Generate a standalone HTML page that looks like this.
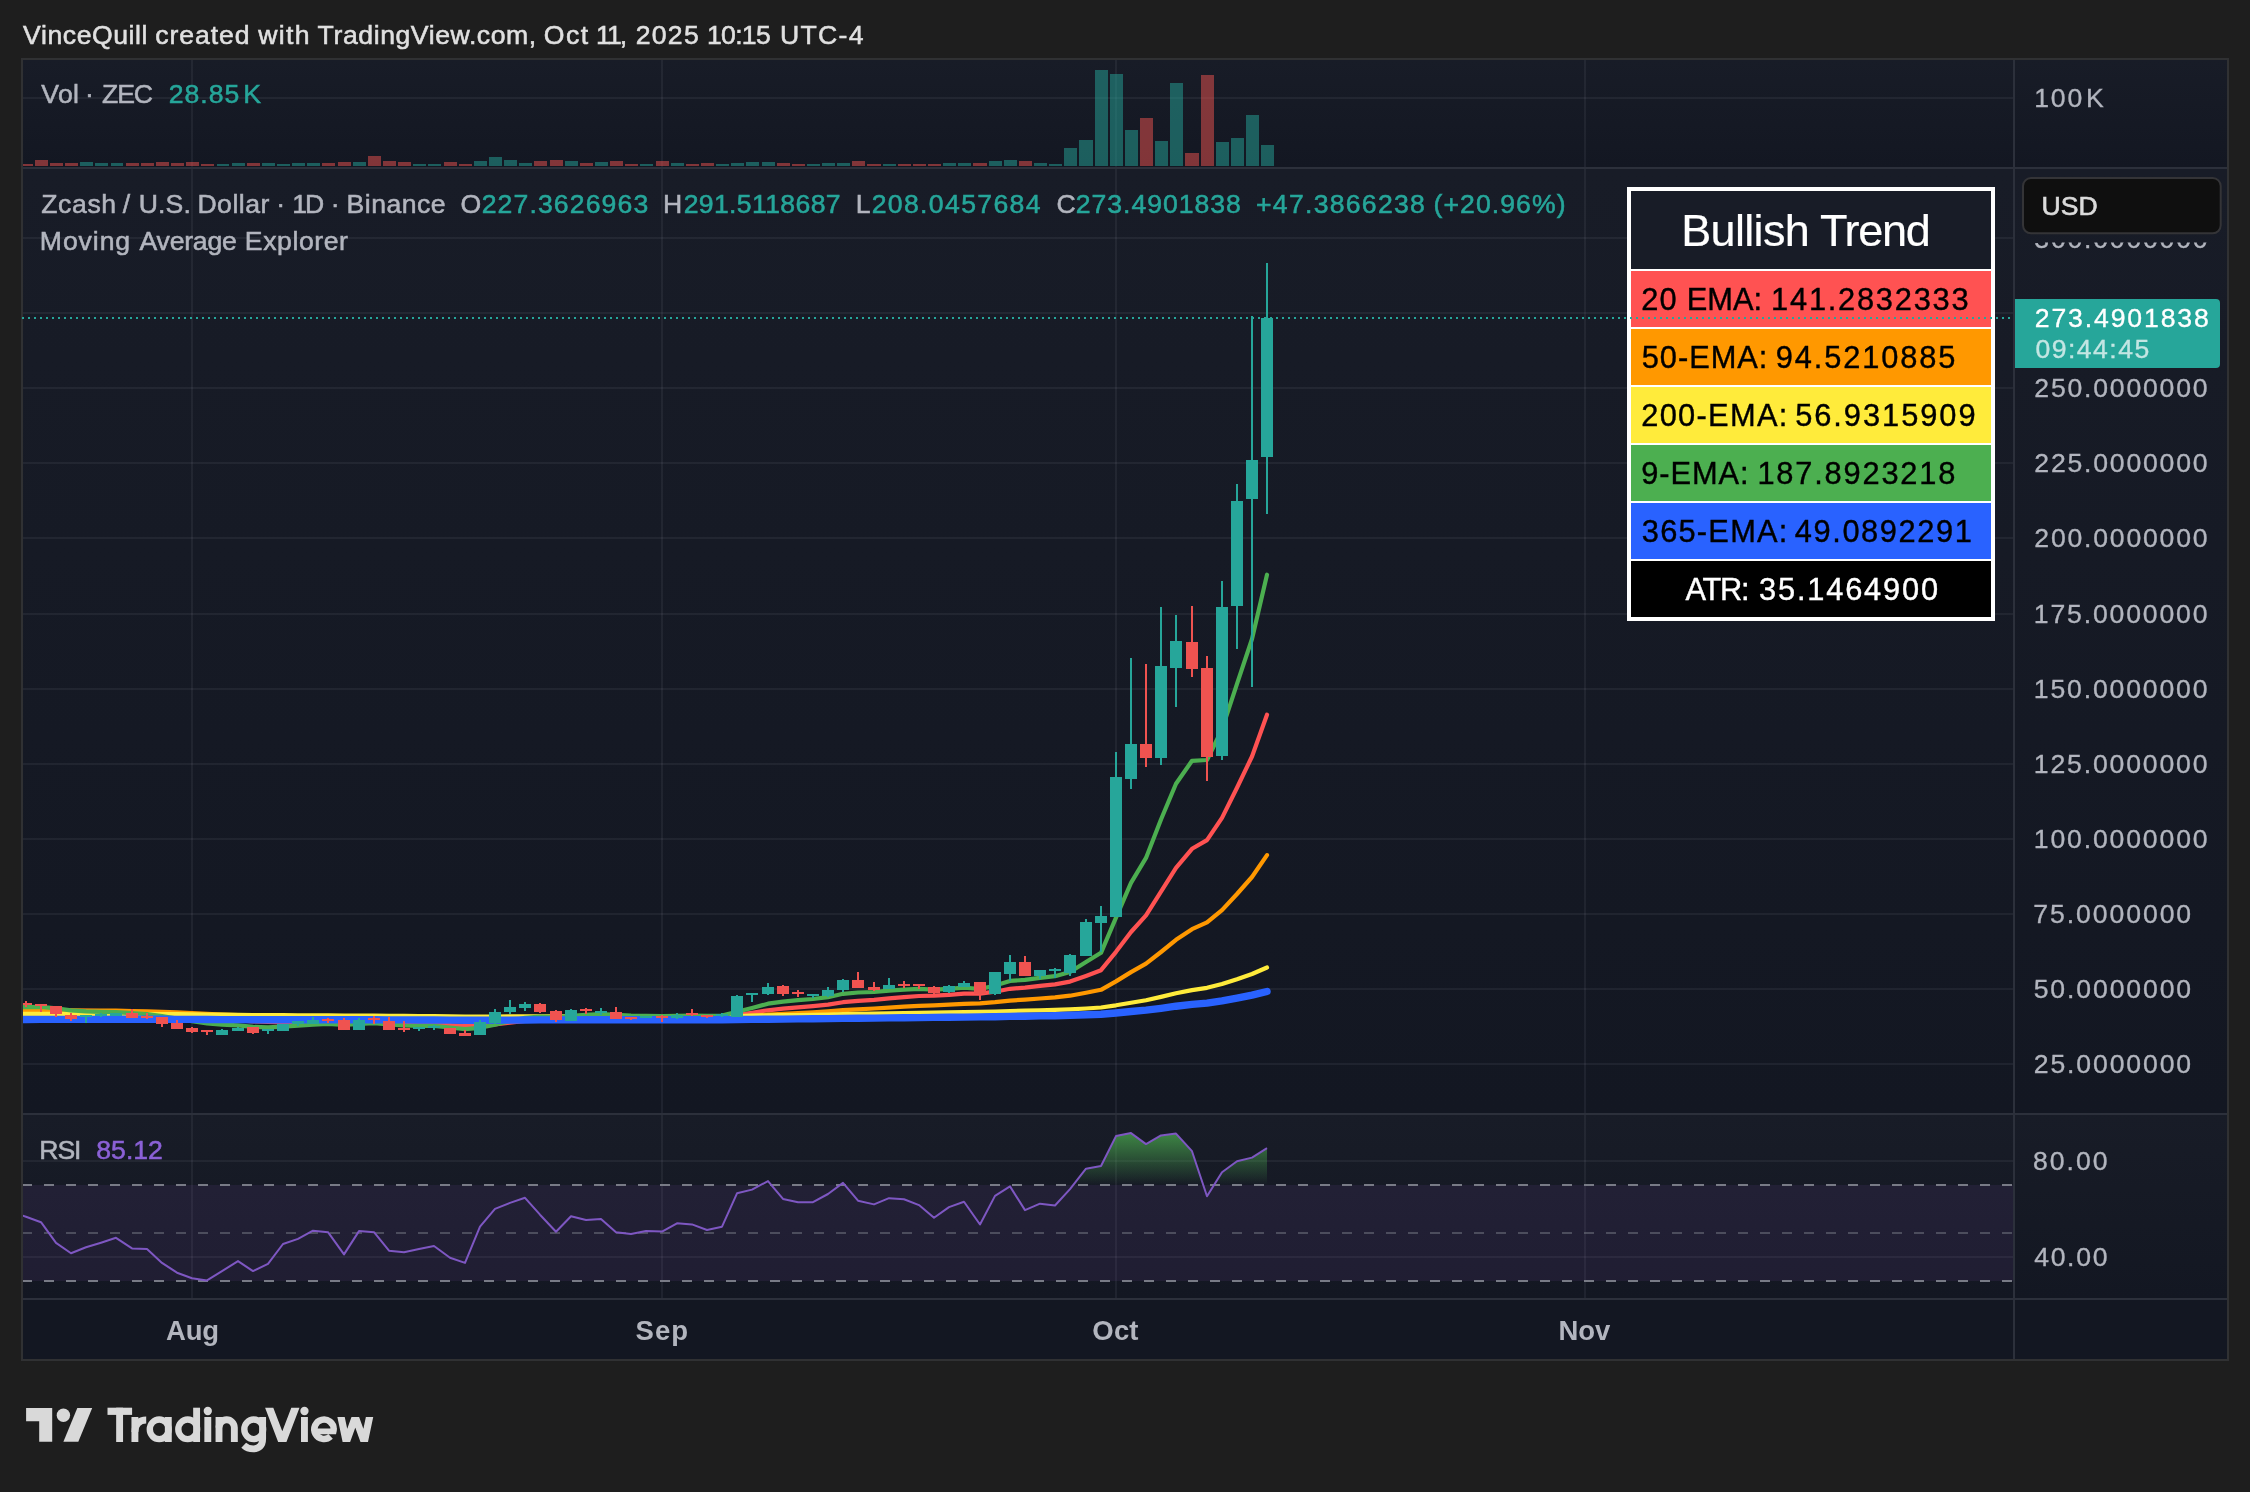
<!DOCTYPE html>
<html><head><meta charset="utf-8"><title>ZEC chart</title>
<style>html,body{margin:0;padding:0;background:#1e1e1e;}svg text{white-space:pre}</style></head>
<body>
<svg width="2250" height="1492" viewBox="0 0 2250 1492" font-family='"Liberation Sans", sans-serif' style="display:block;will-change:transform">
<defs>
<linearGradient id="pg" x1="0" y1="0" x2="0" y2="1"><stop offset="0" stop-color="#181c27"/><stop offset="1" stop-color="#131722"/></linearGradient>
<linearGradient id="ob" gradientUnits="userSpaceOnUse" x1="0" y1="1113" x2="0" y2="1185"><stop offset="0" stop-color="#4caf50" stop-opacity="1"/><stop offset="1" stop-color="#4caf50" stop-opacity="0"/></linearGradient>
<clipPath id="cm"><rect x="23" y="169" width="1990" height="944"/></clipPath>
<clipPath id="cr"><rect x="23" y="1115" width="1990" height="183"/></clipPath>
<clipPath id="cv"><rect x="23" y="60" width="1990" height="107"/></clipPath>
<clipPath id="c300"><rect x="2015" y="242.6" width="212" height="30"/></clipPath>
</defs>
<rect x="0" y="0" width="2250" height="1492" fill="#1e1e1e" />
<rect x="21" y="58" width="2208" height="1303" fill="#303133" />
<rect x="23" y="167" width="2204" height="2" fill="#2c303b" />
<rect x="23" y="1113" width="2204" height="2" fill="#2c303b" />
<rect x="23" y="1298" width="2204" height="2" fill="#2c303b" />
<rect x="23" y="60" width="2204" height="107" fill="url(#pg)" />
<rect x="23" y="169" width="2204" height="944" fill="url(#pg)" />
<rect x="23" y="1115" width="2204" height="183" fill="url(#pg)" />
<rect x="23" y="1300" width="2204" height="59" fill="#131722" />
<rect x="2013" y="60" width="2" height="1299" fill="#2c303b" />
<g fill="rgba(240,243,250,0.06)" shape-rendering="crispEdges">
<rect x="191" y="60" width="2" height="107" fill="rgba(240,243,250,0.06)" />
<rect x="191" y="169" width="2" height="944" fill="rgba(240,243,250,0.06)" />
<rect x="191" y="1115" width="2" height="183" fill="rgba(240,243,250,0.06)" />
<rect x="661" y="60" width="2" height="107" fill="rgba(240,243,250,0.06)" />
<rect x="661" y="169" width="2" height="944" fill="rgba(240,243,250,0.06)" />
<rect x="661" y="1115" width="2" height="183" fill="rgba(240,243,250,0.06)" />
<rect x="1115" y="60" width="2" height="107" fill="rgba(240,243,250,0.06)" />
<rect x="1115" y="169" width="2" height="944" fill="rgba(240,243,250,0.06)" />
<rect x="1115" y="1115" width="2" height="183" fill="rgba(240,243,250,0.06)" />
<rect x="1584" y="60" width="2" height="107" fill="rgba(240,243,250,0.06)" />
<rect x="1584" y="169" width="2" height="944" fill="rgba(240,243,250,0.06)" />
<rect x="1584" y="1115" width="2" height="183" fill="rgba(240,243,250,0.06)" />
<rect x="23" y="1063" width="1990" height="2" fill="rgba(240,243,250,0.06)" />
<rect x="23" y="988" width="1990" height="2" fill="rgba(240,243,250,0.06)" />
<rect x="23" y="913" width="1990" height="2" fill="rgba(240,243,250,0.06)" />
<rect x="23" y="838" width="1990" height="2" fill="rgba(240,243,250,0.06)" />
<rect x="23" y="763" width="1990" height="2" fill="rgba(240,243,250,0.06)" />
<rect x="23" y="688" width="1990" height="2" fill="rgba(240,243,250,0.06)" />
<rect x="23" y="613" width="1990" height="2" fill="rgba(240,243,250,0.06)" />
<rect x="23" y="537" width="1990" height="2" fill="rgba(240,243,250,0.06)" />
<rect x="23" y="462" width="1990" height="2" fill="rgba(240,243,250,0.06)" />
<rect x="23" y="387" width="1990" height="2" fill="rgba(240,243,250,0.06)" />
<rect x="23" y="312" width="1990" height="2" fill="rgba(240,243,250,0.06)" />
<rect x="23" y="237" width="1990" height="2" fill="rgba(240,243,250,0.06)" />
<rect x="23" y="97" width="1990" height="2" fill="rgba(240,243,250,0.06)" />
<rect x="23" y="1160" width="1990" height="2" fill="rgba(240,243,250,0.06)" />
<rect x="23" y="1256" width="1990" height="2" fill="rgba(240,243,250,0.06)" />
</g>
<g clip-path="url(#cv)" shape-rendering="crispEdges">
<rect x="20" y="164" width="13" height="2" fill="rgba(239,83,80,0.5)" />
<rect x="35" y="160" width="13" height="6" fill="rgba(239,83,80,0.5)" />
<rect x="50" y="163" width="13" height="3" fill="rgba(239,83,80,0.5)" />
<rect x="65" y="163" width="13" height="3" fill="rgba(239,83,80,0.5)" />
<rect x="80" y="162" width="13" height="4" fill="rgba(38,166,154,0.5)" />
<rect x="95" y="163" width="13" height="3" fill="rgba(38,166,154,0.5)" />
<rect x="111" y="163" width="12" height="3" fill="rgba(38,166,154,0.5)" />
<rect x="126" y="163" width="13" height="3" fill="rgba(239,83,80,0.5)" />
<rect x="141" y="163" width="13" height="3" fill="rgba(239,83,80,0.5)" />
<rect x="156" y="162" width="13" height="4" fill="rgba(239,83,80,0.5)" />
<rect x="171" y="163" width="13" height="3" fill="rgba(239,83,80,0.5)" />
<rect x="186" y="162" width="13" height="4" fill="rgba(239,83,80,0.5)" />
<rect x="201" y="164" width="13" height="2" fill="rgba(239,83,80,0.5)" />
<rect x="217" y="164" width="12" height="2" fill="rgba(38,166,154,0.5)" />
<rect x="232" y="163" width="13" height="3" fill="rgba(38,166,154,0.5)" />
<rect x="247" y="163" width="13" height="3" fill="rgba(239,83,80,0.5)" />
<rect x="262" y="163" width="13" height="3" fill="rgba(38,166,154,0.5)" />
<rect x="277" y="164" width="13" height="2" fill="rgba(38,166,154,0.5)" />
<rect x="292" y="163" width="13" height="3" fill="rgba(38,166,154,0.5)" />
<rect x="307" y="163" width="13" height="3" fill="rgba(38,166,154,0.5)" />
<rect x="322" y="163" width="13" height="3" fill="rgba(239,83,80,0.5)" />
<rect x="338" y="162" width="13" height="4" fill="rgba(239,83,80,0.5)" />
<rect x="353" y="162" width="13" height="4" fill="rgba(38,166,154,0.5)" />
<rect x="368" y="156" width="13" height="10" fill="rgba(239,83,80,0.5)" />
<rect x="383" y="161" width="13" height="5" fill="rgba(239,83,80,0.5)" />
<rect x="398" y="162" width="13" height="4" fill="rgba(239,83,80,0.5)" />
<rect x="413" y="164" width="13" height="2" fill="rgba(38,166,154,0.5)" />
<rect x="428" y="164" width="13" height="2" fill="rgba(38,166,154,0.5)" />
<rect x="444" y="162" width="13" height="4" fill="rgba(239,83,80,0.5)" />
<rect x="459" y="164" width="13" height="2" fill="rgba(239,83,80,0.5)" />
<rect x="474" y="161" width="13" height="5" fill="rgba(38,166,154,0.5)" />
<rect x="489" y="157" width="13" height="9" fill="rgba(38,166,154,0.5)" />
<rect x="504" y="160" width="13" height="6" fill="rgba(38,166,154,0.5)" />
<rect x="519" y="163" width="13" height="3" fill="rgba(38,166,154,0.5)" />
<rect x="534" y="161" width="13" height="5" fill="rgba(239,83,80,0.5)" />
<rect x="550" y="160" width="13" height="6" fill="rgba(239,83,80,0.5)" />
<rect x="565" y="161" width="13" height="5" fill="rgba(38,166,154,0.5)" />
<rect x="580" y="163" width="13" height="3" fill="rgba(239,83,80,0.5)" />
<rect x="595" y="162" width="13" height="4" fill="rgba(38,166,154,0.5)" />
<rect x="610" y="161" width="13" height="5" fill="rgba(239,83,80,0.5)" />
<rect x="625" y="164" width="13" height="2" fill="rgba(239,83,80,0.5)" />
<rect x="640" y="164" width="13" height="2" fill="rgba(38,166,154,0.5)" />
<rect x="656" y="161" width="13" height="5" fill="rgba(239,83,80,0.5)" />
<rect x="671" y="163" width="13" height="3" fill="rgba(38,166,154,0.5)" />
<rect x="686" y="164" width="13" height="2" fill="rgba(239,83,80,0.5)" />
<rect x="701" y="163" width="13" height="3" fill="rgba(239,83,80,0.5)" />
<rect x="716" y="164" width="13" height="2" fill="rgba(38,166,154,0.5)" />
<rect x="731" y="163" width="13" height="3" fill="rgba(38,166,154,0.5)" />
<rect x="746" y="162" width="13" height="4" fill="rgba(38,166,154,0.5)" />
<rect x="762" y="162" width="13" height="4" fill="rgba(38,166,154,0.5)" />
<rect x="777" y="163" width="13" height="3" fill="rgba(239,83,80,0.5)" />
<rect x="792" y="164" width="13" height="2" fill="rgba(239,83,80,0.5)" />
<rect x="807" y="164" width="13" height="2" fill="rgba(38,166,154,0.5)" />
<rect x="822" y="163" width="13" height="3" fill="rgba(38,166,154,0.5)" />
<rect x="837" y="163" width="13" height="3" fill="rgba(38,166,154,0.5)" />
<rect x="852" y="161" width="13" height="5" fill="rgba(239,83,80,0.5)" />
<rect x="867" y="164" width="14" height="2" fill="rgba(239,83,80,0.5)" />
<rect x="883" y="164" width="13" height="2" fill="rgba(38,166,154,0.5)" />
<rect x="898" y="164" width="13" height="2" fill="rgba(239,83,80,0.5)" />
<rect x="913" y="164" width="13" height="2" fill="rgba(239,83,80,0.5)" />
<rect x="928" y="164" width="13" height="2" fill="rgba(239,83,80,0.5)" />
<rect x="943" y="163" width="13" height="3" fill="rgba(38,166,154,0.5)" />
<rect x="958" y="163" width="13" height="3" fill="rgba(38,166,154,0.5)" />
<rect x="973" y="163" width="14" height="3" fill="rgba(239,83,80,0.5)" />
<rect x="989" y="161" width="13" height="5" fill="rgba(38,166,154,0.5)" />
<rect x="1004" y="160" width="13" height="6" fill="rgba(38,166,154,0.5)" />
<rect x="1019" y="161" width="13" height="5" fill="rgba(239,83,80,0.5)" />
<rect x="1034" y="163" width="13" height="3" fill="rgba(38,166,154,0.5)" />
<rect x="1049" y="164" width="13" height="2" fill="rgba(38,166,154,0.5)" />
<rect x="1064" y="148" width="13" height="18" fill="rgba(38,166,154,0.5)" />
<rect x="1079" y="140" width="14" height="26" fill="rgba(38,166,154,0.5)" />
<rect x="1095" y="70" width="13" height="96" fill="rgba(38,166,154,0.5)" />
<rect x="1110" y="74" width="13" height="92" fill="rgba(38,166,154,0.5)" />
<rect x="1125" y="130" width="13" height="36" fill="rgba(38,166,154,0.5)" />
<rect x="1140" y="118" width="13" height="48" fill="rgba(239,83,80,0.5)" />
<rect x="1155" y="141" width="13" height="25" fill="rgba(38,166,154,0.5)" />
<rect x="1170" y="83" width="13" height="83" fill="rgba(38,166,154,0.5)" />
<rect x="1185" y="153" width="14" height="13" fill="rgba(239,83,80,0.5)" />
<rect x="1201" y="75" width="13" height="91" fill="rgba(239,83,80,0.5)" />
<rect x="1216" y="142" width="13" height="24" fill="rgba(38,166,154,0.5)" />
<rect x="1231" y="138" width="13" height="28" fill="rgba(38,166,154,0.5)" />
<rect x="1246" y="115" width="13" height="51" fill="rgba(38,166,154,0.5)" />
<rect x="1261" y="145" width="13" height="21" fill="rgba(38,166,154,0.5)" />
</g>
<g clip-path="url(#cm)">
<polyline points="10,1009.5 26,1009.5 41,1009.1 56,1009.6 71,1010.5 86,1010.9 101,1011.2 116,1011.4 132,1012.0 147,1012.5 162,1013.6 177,1015.0 192,1016.6 207,1018.1 222,1019.2 238,1020.1 253,1021.3 268,1022.0 283,1022.3 298,1022.2 313,1022.0 328,1021.9 344,1022.6 359,1022.4 374,1022.1 389,1022.9 404,1023.5 419,1023.8 434,1024.1 450,1025.0 465,1026.0 480,1025.7 495,1024.4 510,1022.7 525,1021.0 540,1020.1 556,1020.1 571,1019.1 586,1018.3 601,1017.6 616,1017.7 631,1017.8 646,1017.7 662,1017.7 677,1017.4 692,1017.1 707,1017.1 722,1016.8 737,1014.9 752,1012.8 768,1010.3 783,1008.7 798,1007.3 813,1006.1 828,1004.6 843,1002.2 858,1000.8 874,999.8 889,998.4 904,997.1 919,996.0 934,995.7 949,994.8 964,993.7 980,993.7 995,991.7 1010,988.8 1025,987.6 1040,985.9 1055,984.4 1070,981.6 1086,975.9 1101,970.2 1116,951.8 1131,932.0 1146,915.4 1161,891.6 1176,867.8 1192,848.8 1207,840.1 1222,817.9 1237,787.7 1252,756.5 1267,714.7" fill="none" stroke="#ff5252" stroke-width="4.2" stroke-linejoin="round" stroke-linecap="round"/>
<polyline points="10,1010.0 26,1010.0 41,1009.8 56,1010.0 71,1010.3 86,1010.5 101,1010.6 116,1010.7 132,1011.0 147,1011.3 162,1011.8 177,1012.4 192,1013.2 207,1013.9 222,1014.6 238,1015.1 253,1015.8 268,1016.3 283,1016.6 298,1016.8 313,1016.9 328,1017.1 344,1017.6 359,1017.7 374,1017.8 389,1018.2 404,1018.7 419,1019.0 434,1019.3 450,1019.9 465,1020.5 480,1020.6 495,1020.2 510,1019.7 525,1019.1 540,1018.8 556,1018.9 571,1018.5 586,1018.2 601,1017.9 616,1018.0 631,1018.0 646,1017.9 662,1017.9 677,1017.8 692,1017.7 707,1017.6 722,1017.5 737,1016.7 752,1015.7 768,1014.6 783,1013.8 798,1013.0 813,1012.3 828,1011.4 843,1010.2 858,1009.3 874,1008.5 889,1007.6 904,1006.7 919,1005.9 934,1005.4 949,1004.6 964,1003.8 980,1003.4 995,1002.2 1010,1000.6 1025,999.6 1040,998.5 1055,997.3 1070,995.7 1086,992.8 1101,989.8 1116,981.4 1131,972.1 1146,963.7 1161,952.0 1176,939.8 1192,929.2 1207,922.4 1222,910.1 1237,894.0 1252,877.0 1267,855.1" fill="none" stroke="#ff9800" stroke-width="4.2" stroke-linejoin="round" stroke-linecap="round"/>
<polyline points="10,1013.9 26,1013.9 41,1013.8 56,1013.8 71,1013.9 86,1013.9 101,1013.9 116,1013.9 132,1013.9 147,1014.0 162,1014.1 177,1014.2 192,1014.4 207,1014.5 222,1014.7 238,1014.8 253,1015.0 268,1015.2 283,1015.2 298,1015.3 313,1015.4 328,1015.4 344,1015.6 359,1015.6 374,1015.6 389,1015.8 404,1015.9 419,1016.0 434,1016.1 450,1016.3 465,1016.5 480,1016.6 495,1016.5 510,1016.4 525,1016.3 540,1016.3 556,1016.3 571,1016.2 586,1016.2 601,1016.1 616,1016.1 631,1016.2 646,1016.2 662,1016.2 677,1016.2 692,1016.2 707,1016.2 722,1016.1 737,1016.0 752,1015.7 768,1015.4 783,1015.2 798,1015.0 813,1014.8 828,1014.6 843,1014.2 858,1013.9 874,1013.7 889,1013.4 904,1013.1 919,1012.9 934,1012.7 949,1012.4 964,1012.1 980,1011.9 995,1011.5 1010,1011.0 1025,1010.7 1040,1010.3 1055,1009.9 1070,1009.3 1086,1008.5 1101,1007.5 1116,1005.3 1131,1002.7 1146,1000.2 1161,996.9 1176,993.3 1192,990.1 1207,987.8 1222,984.0 1237,979.2 1252,974.0 1267,967.5" fill="none" stroke="#ffeb3b" stroke-width="4.2" stroke-linejoin="round" stroke-linecap="round"/>
<polyline points="10,1007.2 26,1007.2 41,1006.9 56,1008.3 71,1010.4 86,1011.3 101,1011.8 116,1012.1 132,1013.2 147,1014.1 162,1016.0 177,1018.6 192,1021.2 207,1023.3 222,1024.7 238,1025.4 253,1026.9 268,1027.3 283,1026.7 298,1025.6 313,1024.6 328,1023.8 344,1025.0 359,1024.0 374,1023.1 389,1024.5 404,1025.5 419,1025.8 434,1025.9 450,1027.5 465,1029.2 480,1027.8 495,1024.6 510,1021.1 525,1017.8 540,1016.5 556,1017.2 571,1015.8 586,1014.8 601,1014.0 616,1014.9 631,1015.7 646,1015.8 662,1016.2 677,1015.9 692,1015.7 707,1015.9 722,1015.6 737,1011.7 752,1008.0 768,1003.7 783,1001.7 798,1000.2 813,999.0 828,997.2 843,993.8 858,992.5 874,992.0 889,990.6 904,989.6 919,988.8 934,989.6 949,988.9 964,987.7 980,989.0 995,985.6 1010,980.9 1025,979.9 1040,977.9 1055,976.2 1070,972.0 1086,962.0 1101,952.8 1116,917.7 1131,882.9 1146,857.9 1161,819.5 1176,783.7 1192,760.8 1207,760.0 1222,729.4 1237,683.8 1252,639.0 1267,574.7" fill="none" stroke="#4caf50" stroke-width="4.2" stroke-linejoin="round" stroke-linecap="round"/>
<polyline points="10,1019.5 26,1019.5 41,1019.4 56,1019.4 71,1019.4 86,1019.4 101,1019.4 116,1019.3 132,1019.3 147,1019.3 162,1019.3 177,1019.4 192,1019.4 207,1019.5 222,1019.6 238,1019.6 253,1019.7 268,1019.7 283,1019.8 298,1019.8 313,1019.8 328,1019.8 344,1019.8 359,1019.8 374,1019.8 389,1019.9 404,1019.9 419,1020.0 434,1020.0 450,1020.1 465,1020.2 480,1020.2 495,1020.1 510,1020.1 525,1020.0 540,1019.9 556,1019.9 571,1019.9 586,1019.8 601,1019.8 616,1019.8 631,1019.8 646,1019.8 662,1019.8 677,1019.7 692,1019.7 707,1019.7 722,1019.7 737,1019.5 752,1019.4 768,1019.2 783,1019.1 798,1018.9 813,1018.8 828,1018.6 843,1018.4 858,1018.3 874,1018.1 889,1017.9 904,1017.7 919,1017.6 934,1017.4 949,1017.3 964,1017.1 980,1016.9 995,1016.7 1010,1016.4 1025,1016.2 1040,1015.9 1055,1015.7 1070,1015.3 1086,1014.8 1101,1014.3 1116,1013.0 1131,1011.5 1146,1010.1 1161,1008.3 1176,1006.2 1192,1004.4 1207,1003.1 1222,1000.9 1237,998.2 1252,995.2 1267,991.5" fill="none" stroke="#2962ff" stroke-width="7.4" stroke-linejoin="round" stroke-linecap="round"/>
<g shape-rendering="crispEdges">
<rect x="25" y="1001" width="2" height="6" fill="#ef5350" />
<rect x="20" y="1003" width="12" height="2" fill="#ef5350" />
<rect x="40" y="1004" width="2" height="8" fill="#ef5350" />
<rect x="35" y="1004" width="12" height="2" fill="#ef5350" />
<rect x="55" y="1006" width="2" height="11" fill="#ef5350" />
<rect x="50" y="1006" width="12" height="8" fill="#ef5350" />
<rect x="70" y="1013" width="2" height="8" fill="#ef5350" />
<rect x="65" y="1015" width="12" height="4" fill="#ef5350" />
<rect x="85" y="1015" width="2" height="8" fill="#26a69a" />
<rect x="80" y="1015" width="12" height="2" fill="#26a69a" />
<rect x="100" y="1013" width="2" height="4" fill="#26a69a" />
<rect x="95" y="1014" width="12" height="2" fill="#26a69a" />
<rect x="115" y="1013" width="2" height="3" fill="#26a69a" />
<rect x="110" y="1013" width="12" height="3" fill="#26a69a" />
<rect x="131" y="1009" width="2" height="9" fill="#ef5350" />
<rect x="126" y="1013" width="12" height="5" fill="#ef5350" />
<rect x="146" y="1013" width="2" height="6" fill="#ef5350" />
<rect x="141" y="1016" width="12" height="2" fill="#ef5350" />
<rect x="161" y="1017" width="2" height="10" fill="#ef5350" />
<rect x="156" y="1017" width="12" height="7" fill="#ef5350" />
<rect x="176" y="1020" width="2" height="9" fill="#ef5350" />
<rect x="171" y="1023" width="12" height="6" fill="#ef5350" />
<rect x="191" y="1027" width="2" height="6" fill="#ef5350" />
<rect x="186" y="1028" width="12" height="4" fill="#ef5350" />
<rect x="206" y="1030" width="2" height="5" fill="#ef5350" />
<rect x="201" y="1030" width="12" height="2" fill="#ef5350" />
<rect x="221" y="1029" width="2" height="6" fill="#26a69a" />
<rect x="216" y="1030" width="12" height="5" fill="#26a69a" />
<rect x="237" y="1027" width="2" height="4" fill="#26a69a" />
<rect x="232" y="1028" width="12" height="3" fill="#26a69a" />
<rect x="252" y="1027" width="2" height="7" fill="#ef5350" />
<rect x="247" y="1027" width="12" height="6" fill="#ef5350" />
<rect x="267" y="1029" width="2" height="5" fill="#26a69a" />
<rect x="262" y="1029" width="12" height="2" fill="#26a69a" />
<rect x="282" y="1024" width="2" height="7" fill="#26a69a" />
<rect x="277" y="1024" width="12" height="7" fill="#26a69a" />
<rect x="297" y="1021" width="2" height="5" fill="#26a69a" />
<rect x="292" y="1021" width="12" height="3" fill="#26a69a" />
<rect x="312" y="1017" width="2" height="7" fill="#26a69a" />
<rect x="307" y="1020" width="12" height="4" fill="#26a69a" />
<rect x="327" y="1018" width="2" height="5" fill="#ef5350" />
<rect x="322" y="1019" width="12" height="2" fill="#ef5350" />
<rect x="343" y="1018" width="2" height="12" fill="#ef5350" />
<rect x="338" y="1020" width="12" height="10" fill="#ef5350" />
<rect x="358" y="1018" width="2" height="12" fill="#26a69a" />
<rect x="353" y="1020" width="12" height="10" fill="#26a69a" />
<rect x="373" y="1016" width="2" height="8" fill="#ef5350" />
<rect x="368" y="1018" width="12" height="2" fill="#ef5350" />
<rect x="388" y="1017" width="2" height="13" fill="#ef5350" />
<rect x="383" y="1021" width="12" height="9" fill="#ef5350" />
<rect x="403" y="1021" width="2" height="11" fill="#ef5350" />
<rect x="398" y="1028" width="12" height="2" fill="#ef5350" />
<rect x="418" y="1027" width="2" height="4" fill="#26a69a" />
<rect x="413" y="1027" width="12" height="2" fill="#26a69a" />
<rect x="433" y="1025" width="2" height="5" fill="#26a69a" />
<rect x="428" y="1026" width="12" height="2" fill="#26a69a" />
<rect x="449" y="1028" width="2" height="6" fill="#ef5350" />
<rect x="444" y="1028" width="12" height="6" fill="#ef5350" />
<rect x="464" y="1030" width="2" height="6" fill="#ef5350" />
<rect x="459" y="1033" width="12" height="3" fill="#ef5350" />
<rect x="479" y="1020" width="2" height="15" fill="#26a69a" />
<rect x="474" y="1022" width="12" height="13" fill="#26a69a" />
<rect x="494" y="1009" width="2" height="15" fill="#26a69a" />
<rect x="489" y="1012" width="12" height="11" fill="#26a69a" />
<rect x="509" y="1000" width="2" height="14" fill="#26a69a" />
<rect x="504" y="1007" width="12" height="5" fill="#26a69a" />
<rect x="524" y="1002" width="2" height="9" fill="#26a69a" />
<rect x="519" y="1004" width="12" height="4" fill="#26a69a" />
<rect x="539" y="1003" width="2" height="10" fill="#ef5350" />
<rect x="534" y="1004" width="12" height="8" fill="#ef5350" />
<rect x="555" y="1010" width="2" height="12" fill="#ef5350" />
<rect x="550" y="1011" width="12" height="9" fill="#ef5350" />
<rect x="570" y="1009" width="2" height="12" fill="#26a69a" />
<rect x="565" y="1010" width="12" height="11" fill="#26a69a" />
<rect x="585" y="1008" width="2" height="6" fill="#ef5350" />
<rect x="580" y="1009" width="12" height="2" fill="#ef5350" />
<rect x="600" y="1008" width="2" height="7" fill="#26a69a" />
<rect x="595" y="1011" width="12" height="2" fill="#26a69a" />
<rect x="615" y="1007" width="2" height="12" fill="#ef5350" />
<rect x="610" y="1012" width="12" height="7" fill="#ef5350" />
<rect x="630" y="1017" width="2" height="3" fill="#ef5350" />
<rect x="625" y="1017" width="12" height="2" fill="#ef5350" />
<rect x="645" y="1016" width="2" height="2" fill="#26a69a" />
<rect x="640" y="1016" width="12" height="2" fill="#26a69a" />
<rect x="661" y="1015" width="2" height="7" fill="#ef5350" />
<rect x="656" y="1016" width="12" height="2" fill="#ef5350" />
<rect x="676" y="1013" width="2" height="6" fill="#26a69a" />
<rect x="671" y="1015" width="12" height="3" fill="#26a69a" />
<rect x="691" y="1009" width="2" height="7" fill="#ef5350" />
<rect x="686" y="1013" width="12" height="2" fill="#ef5350" />
<rect x="706" y="1015" width="2" height="3" fill="#ef5350" />
<rect x="701" y="1015" width="12" height="2" fill="#ef5350" />
<rect x="721" y="1013" width="2" height="4" fill="#26a69a" />
<rect x="716" y="1014" width="12" height="2" fill="#26a69a" />
<rect x="736" y="995" width="2" height="22" fill="#26a69a" />
<rect x="731" y="996" width="12" height="21" fill="#26a69a" />
<rect x="751" y="993" width="2" height="9" fill="#26a69a" />
<rect x="746" y="993" width="12" height="2" fill="#26a69a" />
<rect x="767" y="983" width="2" height="12" fill="#26a69a" />
<rect x="762" y="987" width="12" height="7" fill="#26a69a" />
<rect x="782" y="985" width="2" height="11" fill="#ef5350" />
<rect x="777" y="986" width="12" height="8" fill="#ef5350" />
<rect x="797" y="990" width="2" height="7" fill="#ef5350" />
<rect x="792" y="992" width="12" height="2" fill="#ef5350" />
<rect x="812" y="994" width="2" height="4" fill="#26a69a" />
<rect x="807" y="994" width="12" height="2" fill="#26a69a" />
<rect x="827" y="987" width="2" height="10" fill="#26a69a" />
<rect x="822" y="990" width="12" height="6" fill="#26a69a" />
<rect x="842" y="979" width="2" height="13" fill="#26a69a" />
<rect x="837" y="980" width="12" height="10" fill="#26a69a" />
<rect x="857" y="972" width="2" height="16" fill="#ef5350" />
<rect x="852" y="980" width="12" height="8" fill="#ef5350" />
<rect x="873" y="982" width="2" height="9" fill="#ef5350" />
<rect x="868" y="987" width="12" height="3" fill="#ef5350" />
<rect x="888" y="978" width="2" height="11" fill="#26a69a" />
<rect x="883" y="985" width="12" height="4" fill="#26a69a" />
<rect x="903" y="981" width="2" height="7" fill="#ef5350" />
<rect x="898" y="984" width="12" height="2" fill="#ef5350" />
<rect x="918" y="984" width="2" height="5" fill="#ef5350" />
<rect x="913" y="984" width="12" height="2" fill="#ef5350" />
<rect x="933" y="986" width="2" height="8" fill="#ef5350" />
<rect x="928" y="987" width="12" height="6" fill="#ef5350" />
<rect x="948" y="985" width="2" height="8" fill="#26a69a" />
<rect x="943" y="986" width="12" height="6" fill="#26a69a" />
<rect x="963" y="981" width="2" height="6" fill="#26a69a" />
<rect x="958" y="983" width="12" height="4" fill="#26a69a" />
<rect x="979" y="982" width="2" height="18" fill="#ef5350" />
<rect x="974" y="982" width="12" height="12" fill="#ef5350" />
<rect x="994" y="972" width="2" height="23" fill="#26a69a" />
<rect x="989" y="972" width="12" height="22" fill="#26a69a" />
<rect x="1009" y="955" width="2" height="26" fill="#26a69a" />
<rect x="1004" y="962" width="12" height="12" fill="#26a69a" />
<rect x="1024" y="956" width="2" height="20" fill="#ef5350" />
<rect x="1019" y="962" width="12" height="14" fill="#ef5350" />
<rect x="1039" y="970" width="2" height="9" fill="#26a69a" />
<rect x="1034" y="970" width="12" height="6" fill="#26a69a" />
<rect x="1054" y="968" width="2" height="10" fill="#26a69a" />
<rect x="1049" y="969" width="12" height="2" fill="#26a69a" />
<rect x="1069" y="954" width="2" height="22" fill="#26a69a" />
<rect x="1064" y="955" width="12" height="18" fill="#26a69a" />
<rect x="1085" y="919" width="2" height="37" fill="#26a69a" />
<rect x="1080" y="922" width="12" height="34" fill="#26a69a" />
<rect x="1100" y="906" width="2" height="46" fill="#26a69a" />
<rect x="1095" y="916" width="12" height="7" fill="#26a69a" />
<rect x="1115" y="752" width="2" height="165" fill="#26a69a" />
<rect x="1110" y="777" width="12" height="140" fill="#26a69a" />
<rect x="1130" y="658" width="2" height="131" fill="#26a69a" />
<rect x="1125" y="744" width="12" height="35" fill="#26a69a" />
<rect x="1145" y="664" width="2" height="103" fill="#ef5350" />
<rect x="1140" y="744" width="12" height="14" fill="#ef5350" />
<rect x="1160" y="607" width="2" height="158" fill="#26a69a" />
<rect x="1155" y="666" width="12" height="92" fill="#26a69a" />
<rect x="1175" y="615" width="2" height="92" fill="#26a69a" />
<rect x="1170" y="641" width="12" height="27" fill="#26a69a" />
<rect x="1191" y="606" width="2" height="71" fill="#ef5350" />
<rect x="1186" y="642" width="12" height="27" fill="#ef5350" />
<rect x="1206" y="656" width="2" height="125" fill="#ef5350" />
<rect x="1201" y="668" width="12" height="89" fill="#ef5350" />
<rect x="1221" y="581" width="2" height="179" fill="#26a69a" />
<rect x="1216" y="607" width="12" height="149" fill="#26a69a" />
<rect x="1236" y="484" width="2" height="165" fill="#26a69a" />
<rect x="1231" y="501" width="12" height="105" fill="#26a69a" />
<rect x="1251" y="316" width="2" height="371" fill="#26a69a" />
<rect x="1246" y="460" width="12" height="39" fill="#26a69a" />
<rect x="1266" y="263" width="2" height="251" fill="#26a69a" />
<rect x="1261" y="318" width="12" height="139" fill="#26a69a" />
</g>
</g>
<g clip-path="url(#cr)">
<rect x="23" y="1185" width="1990" height="96" fill="rgba(150,84,200,0.1)" />
<path d="M760.7,1185.0 L768.0,1181.1 L771.3,1185.0 L771.3,1185 L760.7,1185Z" fill="url(#ob)"/>
<path d="M840.2,1185.0 L843.0,1182.9 L844.8,1185.0 L844.8,1185 L840.2,1185Z" fill="url(#ob)"/>
<path d="M1073.2,1185.0 L1086.0,1168.7 L1101.0,1166.0 L1116.0,1136.1 L1131.0,1133.1 L1146.0,1144.1 L1161.0,1135.4 L1176.0,1133.6 L1192.0,1151.2 L1203.3,1185.0 L1203.3,1185 L1073.2,1185Z" fill="url(#ob)"/>
<path d="M1214.0,1185.0 L1222.0,1172.2 L1237.0,1161.2 L1252.0,1157.6 L1267.0,1148.2 L1267.0,1185.0 L1267.0,1185 L1214.0,1185Z" fill="url(#ob)"/>
<path d="M22,1185H2013M22,1281H2013" stroke="#787b86" stroke-width="2" stroke-dasharray="10 12" fill="none" shape-rendering="crispEdges"/>
<path d="M22,1233H2013" stroke="rgba(120,123,134,0.5)" stroke-width="2" stroke-dasharray="10 12" fill="none" shape-rendering="crispEdges"/>
<polyline points="10,1211.7 26,1216.7 41,1222.2 56,1242.9 71,1253.3 86,1247.3 101,1242.7 116,1237.8 132,1248.4 147,1248.9 162,1262.9 177,1272.7 192,1278.2 207,1280.4 222,1271.1 238,1261.1 253,1271.1 268,1263.8 283,1244.0 298,1238.9 313,1230.7 328,1232.2 344,1254.4 359,1231.1 374,1232.2 389,1250.7 404,1252.2 419,1248.9 434,1246.0 450,1257.8 465,1262.9 480,1226.7 495,1208.9 510,1202.9 525,1197.8 540,1214.7 556,1231.8 571,1216.2 586,1220.0 601,1218.9 616,1232.2 631,1234.0 646,1231.1 662,1231.6 677,1223.3 692,1224.4 707,1230.0 722,1226.7 737,1193.3 752,1189.6 768,1181.1 783,1198.9 798,1202.2 813,1202.2 828,1194.0 843,1182.9 858,1200.7 874,1204.4 889,1198.2 904,1199.3 919,1205.1 934,1217.8 949,1207.1 964,1201.7 980,1224.5 995,1195.9 1010,1186.4 1025,1210.1 1040,1203.7 1055,1205.5 1070,1189.1 1086,1168.7 1101,1166.0 1116,1136.1 1131,1133.1 1146,1144.1 1161,1135.4 1176,1133.6 1192,1151.2 1207,1196.2 1222,1172.2 1237,1161.2 1252,1157.6 1267,1148.2" fill="none" stroke="#7e57c2" stroke-width="2" stroke-linejoin="round"/>
</g>
<rect x="1627" y="187" width="368" height="434" fill="#ffffff" shape-rendering="crispEdges"/>
<rect x="1631" y="191" width="360" height="78" fill="#181c27" shape-rendering="crispEdges"/>
<rect x="1631" y="271" width="360" height="56" fill="#ff5252" shape-rendering="crispEdges"/>
<rect x="1631" y="329" width="360" height="56" fill="#ff9800" shape-rendering="crispEdges"/>
<rect x="1631" y="387" width="360" height="56" fill="#ffeb3b" shape-rendering="crispEdges"/>
<rect x="1631" y="445" width="360" height="56" fill="#4caf50" shape-rendering="crispEdges"/>
<rect x="1631" y="503" width="360" height="56" fill="#2962ff" shape-rendering="crispEdges"/>
<rect x="1631" y="561" width="360" height="56" fill="#000000" shape-rendering="crispEdges"/>
<path d="M22,318H2013" stroke="#26a69a" stroke-width="2" stroke-dasharray="2 4" fill="none" shape-rendering="crispEdges"/>
<path d="M2015,299H2216a4,4 0 0 1 4,4V364a4,4 0 0 1 -4,4H2015Z" fill="#26a69a"/>
<rect x="2023" y="178" width="197.7" height="55.3" rx="8" ry="8" fill="#0f0f0f" stroke="#343437" stroke-width="2"/>
<text x="23.0809" y="43.6" font-size="26.6" fill="#e0e0e0" textLength="124.446" lengthAdjust="spacing" stroke="#e0e0e0" stroke-width="0.55" >VinceQuill</text>
<text x="155.241" y="43.6" font-size="26.6" fill="#e0e0e0" textLength="94.2389" lengthAdjust="spacing" stroke="#e0e0e0" stroke-width="0.55" >created</text>
<text x="258.292" y="43.6" font-size="26.6" fill="#e0e0e0" textLength="51.1997" lengthAdjust="spacing" stroke="#e0e0e0" stroke-width="0.55" >with</text>
<text x="317.622" y="43.6" font-size="26.6" fill="#e0e0e0" textLength="218.603" lengthAdjust="spacing" stroke="#e0e0e0" stroke-width="0.55" >TradingView.com,</text>
<text x="543.798" y="43.6" font-size="26.6" fill="#e0e0e0" textLength="44.4526" lengthAdjust="spacing" stroke="#e0e0e0" stroke-width="0.55" >Oct</text>
<text x="596.063" y="43.6" font-size="26.6" fill="#e0e0e0" textLength="31.1619" lengthAdjust="spacing" stroke="#e0e0e0" stroke-width="0.55" >11,</text>
<text x="635.801" y="43.6" font-size="26.6" fill="#e0e0e0" textLength="62.891" lengthAdjust="spacing" stroke="#e0e0e0" stroke-width="0.55" >2025</text>
<text x="707.063" y="43.6" font-size="26.6" fill="#e0e0e0" textLength="63.6286" lengthAdjust="spacing" stroke="#e0e0e0" stroke-width="0.55" >10:15</text>
<text x="780.047" y="43.6" font-size="26.6" fill="#e0e0e0" textLength="83.4987" lengthAdjust="spacing" stroke="#e0e0e0" stroke-width="0.55" >UTC-4</text>
<text x="41.3162" y="102.7" font-size="26.6" fill="#b2b5be" textLength="37.6975" lengthAdjust="spacing" stroke="#b2b5be" stroke-width="0.55" >Vol</text>
<text x="84.9765" y="102.7" font-size="26.6" fill="#b2b5be" stroke="#b2b5be" stroke-width="0.55" >·</text>
<text x="102.066" y="102.7" font-size="26.6" fill="#b2b5be" textLength="51.0168" lengthAdjust="spacing" stroke="#b2b5be" stroke-width="0.55" >ZEC</text>
<text x="168.757" y="102.7" font-size="26.6" fill="#26a69a" textLength="70.4743" lengthAdjust="spacing" stroke="#26a69a" stroke-width="0.55" >28.85</text>
<text x="243.165" y="102.7" font-size="26.6" fill="#26a69a" stroke="#26a69a" stroke-width="0.55" >K</text>
<text x="41.2449" y="212.9" font-size="26.6" fill="#b2b5be" textLength="74.8615" lengthAdjust="spacing" stroke="#b2b5be" stroke-width="0.55" >Zcash</text>
<text x="122.756" y="212.9" font-size="26.6" fill="#b2b5be" stroke="#b2b5be" stroke-width="0.55" >/</text>
<text x="138.835" y="212.9" font-size="26.6" fill="#b2b5be" textLength="51.947" lengthAdjust="spacing" stroke="#b2b5be" stroke-width="0.55" >U.S.</text>
<text x="197.432" y="212.9" font-size="26.6" fill="#b2b5be" textLength="71.8615" lengthAdjust="spacing" stroke="#b2b5be" stroke-width="0.55" >Dollar</text>
<text x="276.36" y="212.9" font-size="26.6" fill="#b2b5be" stroke="#b2b5be" stroke-width="0.55" >·</text>
<text x="292.275" y="212.9" font-size="26.6" fill="#b2b5be" textLength="31.8714" lengthAdjust="spacing" stroke="#b2b5be" stroke-width="0.55" >1D</text>
<text x="330.81" y="212.9" font-size="26.6" fill="#b2b5be" stroke="#b2b5be" stroke-width="0.55" >·</text>
<text x="346.431" y="212.9" font-size="26.6" fill="#b2b5be" textLength="99.2301" lengthAdjust="spacing" stroke="#b2b5be" stroke-width="0.55" >Binance</text>
<text x="460.531" y="212.9" font-size="26.6" fill="#b2b5be" stroke="#b2b5be" stroke-width="0.55" >O</text>
<text x="481.699" y="212.9" font-size="26.6" fill="#26a69a" textLength="166.491" lengthAdjust="spacing" stroke="#26a69a" stroke-width="0.55" >227.3626963</text>
<text x="663.059" y="212.9" font-size="26.6" fill="#b2b5be" stroke="#b2b5be" stroke-width="0.55" >H</text>
<text x="683.67" y="212.9" font-size="26.6" fill="#26a69a" textLength="156.929" lengthAdjust="spacing" stroke="#26a69a" stroke-width="0.55" >291.5118687</text>
<text x="855.729" y="212.9" font-size="26.6" fill="#b2b5be" stroke="#b2b5be" stroke-width="0.55" >L</text>
<text x="871.67" y="212.9" font-size="26.6" fill="#26a69a" textLength="168.899" lengthAdjust="spacing" stroke="#26a69a" stroke-width="0.55" >208.0457684</text>
<text x="1056.61" y="212.9" font-size="26.6" fill="#b2b5be" stroke="#b2b5be" stroke-width="0.55" >C</text>
<text x="1075.67" y="212.9" font-size="26.6" fill="#26a69a" textLength="165.172" lengthAdjust="spacing" stroke="#26a69a" stroke-width="0.55" >273.4901838</text>
<text x="1256.05" y="212.9" font-size="26.6" fill="#26a69a" textLength="168.789" lengthAdjust="spacing" stroke="#26a69a" stroke-width="0.55" >+47.3866238</text>
<text x="1433.57" y="212.9" font-size="26.6" fill="#26a69a" textLength="131.948" lengthAdjust="spacing" stroke="#26a69a" stroke-width="0.55" >(+20.96%)</text>
<text x="39.8187" y="250" font-size="26.6" fill="#b2b5be" textLength="90.3397" lengthAdjust="spacing" stroke="#b2b5be" stroke-width="0.55" >Moving</text>
<text x="139.541" y="250" font-size="26.6" fill="#b2b5be" textLength="97.2046" lengthAdjust="spacing" stroke="#b2b5be" stroke-width="0.55" >Average</text>
<text x="244.824" y="250" font-size="26.6" fill="#b2b5be" textLength="103.101" lengthAdjust="spacing" stroke="#b2b5be" stroke-width="0.55" >Explorer</text>
<text x="39.3674" y="1158.9" font-size="26.6" fill="#b2b5be" textLength="42.0855" lengthAdjust="spacing" stroke="#b2b5be" stroke-width="0.55" >RSI</text>
<text x="96.3273" y="1158.9" font-size="26.6" fill="#8b61d6" textLength="66.5644" lengthAdjust="spacing" stroke="#8b61d6" stroke-width="0.55" >85.12</text>
<text x="1681.2" y="245.7" font-size="45" fill="#ffffff" textLength="128.565" lengthAdjust="spacing" stroke="#ffffff" stroke-width="0.2" >Bullish</text>
<text x="1819.96" y="245.7" font-size="45" fill="#ffffff" textLength="110.896" lengthAdjust="spacing" stroke="#ffffff" stroke-width="0.2" >Trend</text>
<text x="1641.19" y="309.8" font-size="30.8" fill="#000000" textLength="35.3488" lengthAdjust="spacing" stroke="#000000" stroke-width="0.4" >20</text>
<text x="1686.79" y="309.8" font-size="30.8" fill="#000000" textLength="75.3624" lengthAdjust="spacing" stroke="#000000" stroke-width="0.4" >EMA:</text>
<text x="1771.09" y="309.8" font-size="30.8" fill="#000000" textLength="197.491" lengthAdjust="spacing" stroke="#000000" stroke-width="0.4" >141.2832333</text>
<text x="1641.76" y="367.8" font-size="30.8" fill="#000000" textLength="125.652" lengthAdjust="spacing" stroke="#000000" stroke-width="0.4" >50-EMA:</text>
<text x="1775.72" y="367.8" font-size="30.8" fill="#000000" textLength="179.609" lengthAdjust="spacing" stroke="#000000" stroke-width="0.4" >94.5210885</text>
<text x="1641.19" y="426.3" font-size="30.8" fill="#000000" textLength="146.173" lengthAdjust="spacing" stroke="#000000" stroke-width="0.4" >200-EMA:</text>
<text x="1795.13" y="426.3" font-size="30.8" fill="#000000" textLength="180.477" lengthAdjust="spacing" stroke="#000000" stroke-width="0.4" >56.9315909</text>
<text x="1641.32" y="483.9" font-size="30.8" fill="#000000" textLength="107.238" lengthAdjust="spacing" stroke="#000000" stroke-width="0.4" >9-EMA:</text>
<text x="1757.39" y="483.9" font-size="30.8" fill="#000000" textLength="198.001" lengthAdjust="spacing" stroke="#000000" stroke-width="0.4" >187.8923218</text>
<text x="1641.76" y="541.7" font-size="30.8" fill="#000000" textLength="145.602" lengthAdjust="spacing" stroke="#000000" stroke-width="0.4" >365-EMA:</text>
<text x="1794.73" y="541.7" font-size="30.8" fill="#000000" textLength="177.247" lengthAdjust="spacing" stroke="#000000" stroke-width="0.4" >49.0892291</text>
<text x="1685.42" y="600" font-size="30.8" fill="#ffffff" textLength="64.2153" lengthAdjust="spacing" stroke="#ffffff" stroke-width="0.4" >ATR:</text>
<text x="1758.98" y="600" font-size="30.8" fill="#ffffff" textLength="179.124" lengthAdjust="spacing" stroke="#ffffff" stroke-width="0.4" >35.1464900</text>
<text x="2034.25" y="107.2" font-size="26.6" fill="#b2b5be" textLength="47.9345" lengthAdjust="spacing" stroke="#b2b5be" stroke-width="0.35" >100</text>
<text x="2086.06" y="107.2" font-size="26.6" fill="#b2b5be" stroke="#b2b5be" stroke-width="0.35" >K</text>
<text x="2041.55" y="214.7" font-size="26.6" fill="#dbdbdb" textLength="56.0574" lengthAdjust="spacing" stroke="#dbdbdb" stroke-width="0.6" >USD</text>
<text x="2034.76" y="326.6" font-size="26.6" fill="#ffffff" textLength="174.017" lengthAdjust="spacing" stroke="#ffffff" stroke-width="0.35" >273.4901838</text>
<text x="2035.4" y="357.5" font-size="26.6" fill="#c3e6e3" textLength="113.786" lengthAdjust="spacing" stroke="#c3e6e3" stroke-width="0.35" >09:44:45</text>
<text x="2033" y="1170.3" font-size="26.6" fill="#b2b5be" textLength="74.4495" lengthAdjust="spacing" stroke="#b2b5be" stroke-width="0.35" >80.00</text>
<text x="2034.16" y="1266.3" font-size="26.6" fill="#b2b5be" textLength="73.2871" lengthAdjust="spacing" stroke="#b2b5be" stroke-width="0.35" >40.00</text>
<text x="166" y="1339.9" font-size="27.5" fill="#b2b5be" textLength="53.1138" lengthAdjust="spacing" font-weight="bold" >Aug</text>
<text x="635.494" y="1339.9" font-size="27.5" fill="#b2b5be" textLength="52.5304" lengthAdjust="spacing" font-weight="bold" >Sep</text>
<text x="1092.36" y="1339.9" font-size="27.5" fill="#b2b5be" textLength="46.1579" lengthAdjust="spacing" font-weight="bold" >Oct</text>
<text x="1558.57" y="1339.9" font-size="27.5" fill="#b2b5be" textLength="51.6071" lengthAdjust="spacing" font-weight="bold" >Nov</text>
<text x="2033.77" y="1073.2" font-size="26.6" fill="#b2b5be" textLength="157.391" lengthAdjust="spacing" stroke="#b2b5be" stroke-width="0.35" >25.0000000</text>
<text x="2033.64" y="998.2" font-size="26.6" fill="#b2b5be" textLength="157.523" lengthAdjust="spacing" stroke="#b2b5be" stroke-width="0.35" >50.0000000</text>
<text x="2033.27" y="923.2" font-size="26.6" fill="#b2b5be" textLength="157.897" lengthAdjust="spacing" stroke="#b2b5be" stroke-width="0.35" >75.0000000</text>
<text x="2033.8" y="848.2" font-size="26.6" fill="#b2b5be" textLength="173.761" lengthAdjust="spacing" stroke="#b2b5be" stroke-width="0.35" >100.0000000</text>
<text x="2033.8" y="773.2" font-size="26.6" fill="#b2b5be" textLength="173.7" lengthAdjust="spacing" stroke="#b2b5be" stroke-width="0.35" >125.0000000</text>
<text x="2033.81" y="698.2" font-size="26.6" fill="#b2b5be" textLength="173.699" lengthAdjust="spacing" stroke="#b2b5be" stroke-width="0.35" >150.0000000</text>
<text x="2033.81" y="623.2" font-size="26.6" fill="#b2b5be" textLength="173.696" lengthAdjust="spacing" stroke="#b2b5be" stroke-width="0.35" >175.0000000</text>
<text x="2034.34" y="547.2" font-size="26.6" fill="#b2b5be" textLength="173.164" lengthAdjust="spacing" stroke="#b2b5be" stroke-width="0.35" >200.0000000</text>
<text x="2034.33" y="472.2" font-size="26.6" fill="#b2b5be" textLength="173.171" lengthAdjust="spacing" stroke="#b2b5be" stroke-width="0.35" >225.0000000</text>
<text x="2034.34" y="397.2" font-size="26.6" fill="#b2b5be" textLength="173.17" lengthAdjust="spacing" stroke="#b2b5be" stroke-width="0.35" >250.0000000</text>
<g clip-path="url(#c300)">
<text x="2034.34" y="247.9" font-size="26.6" fill="#b2b5be" textLength="173.17" lengthAdjust="spacing" stroke="#b2b5be" stroke-width="0.35" >300.0000000</text>
</g>
<g fill="#d9d9d9"><path d="M52.2,1441.7H39.2V1421.2H26.1V1407.9H52.2Z"/><circle cx="63.4" cy="1415.2" r="6.7"/><path d="M78.3,1441.7H63.4L77.3,1407.9H92.2Z"/></g>
<defs><clipPath id="cw"><rect x="330" y="1417" width="50" height="25"/></clipPath></defs>
<g fill="none" stroke="#d9d9d9" stroke-width="6.9">
<path d="M107.5,1411.3H132.1" stroke-width="7.2"/><path d="M119.6,1407.7V1442"/>
<path d="M134.9,1442V1417"/><path d="M134.9,1432C134.9,1424 139.5,1420 146.2,1420" />
<ellipse cx="159.2" cy="1429.3" rx="9.4" ry="9.8" stroke-width="6.4"/><path d="M168.3,1417V1442"/>
<ellipse cx="187.7" cy="1429.3" rx="9.4" ry="9.8" stroke-width="6.4"/><path d="M196.6,1407.7V1442"/>
<path d="M207.8,1417V1442"/>
<path d="M219,1442V1417"/><path d="M219,1427.6A7.67,7.85 0 0 1 234.35,1427.6V1442"/>
<ellipse cx="253.7" cy="1429.3" rx="9.4" ry="9.8" stroke-width="6.4"/><path d="M262.6,1417V1439C262.6,1446 258.5,1448.85 253.3,1448.85C249.3,1448.85 246.2,1447.6 243.7,1445.2"/>
<path d="M304.45,1417V1442"/>
<path d="M333.7,1429.3A9.7,9.75 0 1 0 330.6,1436.4" stroke-width="6.5"/>
</g>
<g clip-path="url(#cw)" fill="none" stroke="#d9d9d9" stroke-width="7.2" stroke-linejoin="miter" stroke-miterlimit="10"><path d="M339.79,1411L341.05,1417L346.3,1442L347.56,1448M345.22,1445L346.3,1442L355.3,1417L356.38,1414M354.22,1414L355.3,1417L364.3,1442L365.38,1445M363.04,1448L364.3,1442L369.55,1417L370.81,1411"/></g>
<g fill="#d9d9d9">
<circle cx="207.8" cy="1411" r="4.15"/><circle cx="304.45" cy="1411" r="4.15"/>
<path d="M265.1,1407.7H273.3L282.3,1431.35L291.3,1407.7H299.5L286.45,1442H278.15Z"/>
<path d="M316,1428.6H336.9Q337,1431.5 336.0,1434.2H316Z"/>
</g>
</svg>
</body></html>
